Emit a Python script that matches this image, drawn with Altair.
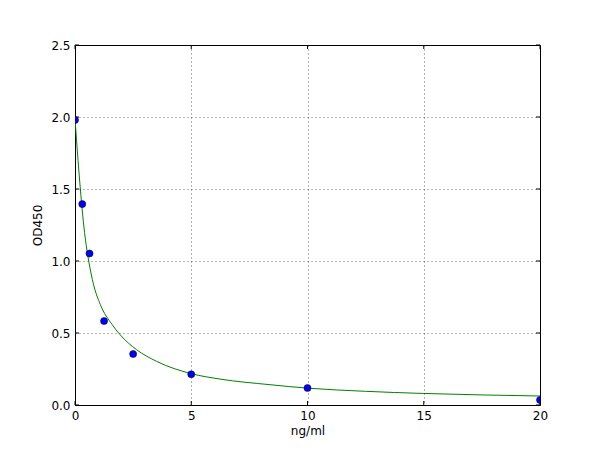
import altair as alt
import pandas as pd

# measured standards
conc = [0, 0.3125, 0.625, 1.25, 2.5, 5, 10, 20]
od = [1.979, 1.395, 1.052, 0.583, 0.354, 0.213, 0.118, 0.035]

# fitted curve
curve_x = [0, 0.13, 0.23, 0.33, 0.44, 0.59, 0.80, 1.09, 1.59, 1.94, 2.65, 3.51,
           5.02, 6.24, 8.39, 10, 12.5, 15, 17.5, 20]
curve_y = [1.99, 1.70, 1.50, 1.32, 1.16, 1.00, 0.835, 0.697, 0.56, 0.488, 0.384, 0.303,
           0.217, 0.18, 0.141, 0.117, 0.095, 0.08, 0.07, 0.0625]

x_ticks = [0, 5, 10, 15, 20]
y_ticks = [0, 0.5, 1.0, 1.5, 2.0, 2.5]

pts = pd.DataFrame({"x": conc, "y": od})
crv = pd.DataFrame({"x": curve_x, "y": curve_y})
xt = pd.DataFrame({"x": x_ticks})
yt = pd.DataFrame({"y": y_ticks})

W, H = 465, 360
TL = 4
FONT = "DejaVu Sans"

xs = alt.Scale(domain=[0, 20], nice=False, zero=False)
ys = alt.Scale(domain=[0, 2.5], nice=False, zero=False)

x_axis = alt.Axis(values=x_ticks, grid=True, gridDash=[1, 3], gridColor="#000000",
                  gridOpacity=0.6, ticks=False, labelPadding=5, titlePadding=4,
                  domain=False, format="d", labelFlush=False)
y_axis = alt.Axis(values=y_ticks, grid=True, gridDash=[1, 3], gridColor="#000000",
                  gridOpacity=0.6, ticks=False, labelPadding=5, titlePadding=6,
                  domain=False, format=".1f", labelFlush=False)

X = alt.X("x:Q", scale=xs, title="ng/ml", axis=x_axis)
Y = alt.Y("y:Q", scale=ys, title="OD450", axis=y_axis)

line = alt.Chart(crv).mark_line(color="#008000", strokeWidth=1, clip=True,
                                interpolate="monotone").encode(x=X, y=Y)

tick_style = dict(color="#000000", strokeWidth=1)
xb = alt.Chart(xt).mark_rule(**tick_style).encode(
    x=X, y=alt.value(H), y2=alt.value(H - TL))
xtop = alt.Chart(xt).mark_rule(**tick_style).encode(
    x=X, y=alt.value(0), y2=alt.value(TL))
yl = alt.Chart(yt).mark_rule(**tick_style).encode(
    y=Y, x=alt.value(0), x2=alt.value(TL))
yr = alt.Chart(yt).mark_rule(**tick_style).encode(
    y=Y, x=alt.value(W - TL), x2=alt.value(W))

points = alt.Chart(pts).mark_point(filled=True, shape="circle", size=50, clip=True,
                                   color="#0000ff", stroke="#000000", strokeWidth=0.5,
                                   opacity=1).encode(x=X, y=Y)

chart = alt.layer(line, xb, xtop, yl, yr, points).properties(
    width=W, height=H, autosize="none",
    padding={"left": 67, "top": 37, "right": 52, "bottom": 45},
).configure_view(
    stroke="#000000", strokeWidth=1
).configure_axis(
    labelFont=FONT, titleFont=FONT, labelFontSize=12, titleFontSize=12,
    labelColor="#000000", titleColor="#000000", titleFontWeight="normal"
)

chart.save("out.html", embed_options={"renderer": "svg", "actions": False})
